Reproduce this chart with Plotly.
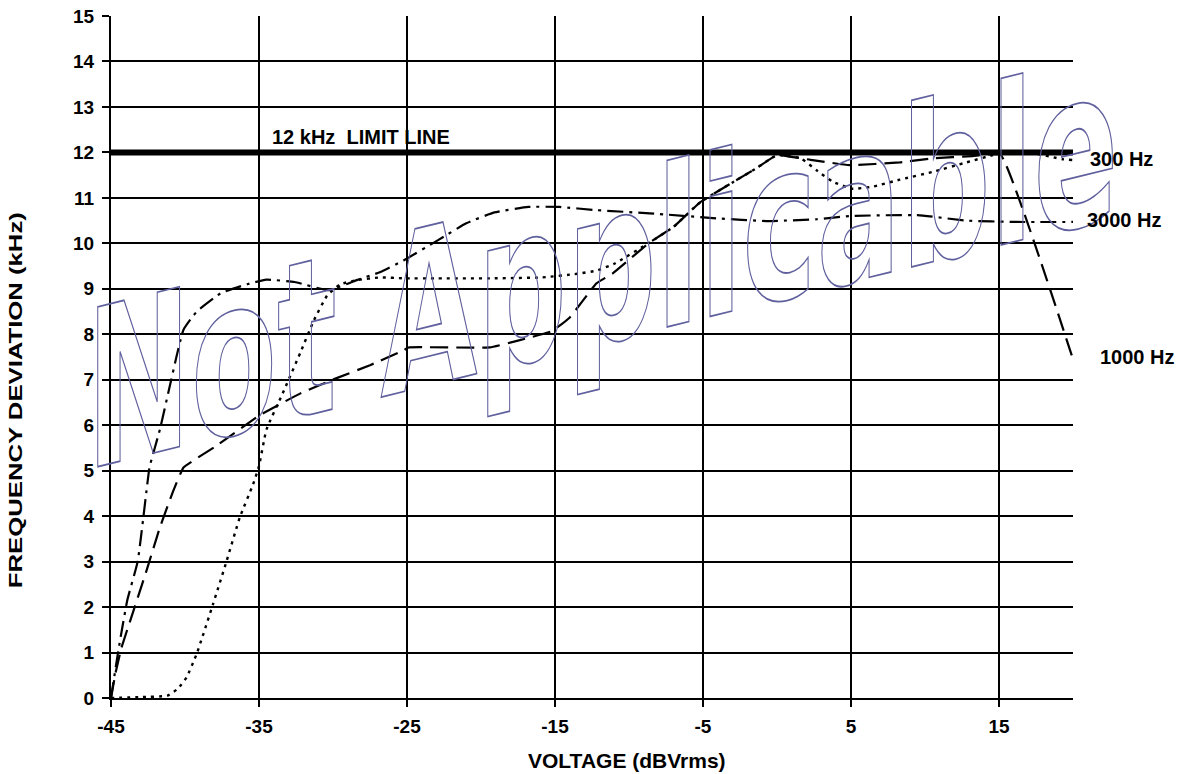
import plotly.graph_objects as go

# ---- data ----
x_300 = [-45, -43, -41.2, -40.5, -39.9, -39.2, -38.1, -37.2, -36.3, -35.4, -35.0, -34.5,
         -33.4, -32.2, -31.3, -30.4, -29.5, -28.4, -26.8, -25.2, -22.9, -19.4, -15.9,
         -13.5, -12.2, -11.0, -8.6, -7.0, -5.2, -3.0, -1.4, 0.0, 1.6, 2.7, 3.8, 5.1,
         6.5, 8.3, 10.5, 12.8, 14.6, 17.0, 19.3, 20.0]
y_300 = [0.0, 0.02, 0.05, 0.2, 0.45, 0.98, 2.07, 3.0, 3.97, 4.7, 5.1, 5.9,
         6.7, 7.6, 8.3, 8.85, 9.1, 9.19, 9.25, 9.23, 9.23, 9.23, 9.25,
         9.33, 9.4, 9.55, 10.02, 10.36, 10.9, 11.34, 11.65, 11.94, 11.87, 11.6, 11.35, 11.2,
         11.25, 11.4, 11.57, 11.78, 11.94, 12.0, 11.85, 11.83]

x_1000 = [-45, -44.7, -44.3, -43.5, -42.6, -41.7, -40.8, -40.1, -38.0, -34.95, -32.2,
          -29.8, -27.5, -25.2, -24.9, -19.4, -17.5, -15.2, -14.0, -12.2, -11.1, -8.6,
          -7.0, -5.2, -3.0, -1.4, 0.0, 2.4, 4.9, 8.3, 10.5, 13.2, 15.1, 20.0]
y_1000 = [0.0, 0.54, 1.1, 1.9, 2.8, 3.75, 4.55, 5.07, 5.52, 6.22, 6.7,
          7.03, 7.32, 7.65, 7.71, 7.71, 7.86, 8.07, 8.37, 9.12, 9.34, 10.02,
          10.36, 10.9, 11.34, 11.65, 11.94, 11.83, 11.72, 11.78, 11.87, 11.92, 11.95, 7.45]

x_3000 = [-45, -44.5, -43.9, -43.2, -42.6, -42.4, -41.7, -41.0, -40.1, -39.2, -37.6,
          -35.8, -34.5, -32.6, -30.3, -28.4, -26.8, -25.2, -22.9, -21.0, -19.1, -16.8,
          -14.7, -12.2, -8.6, -4.1, -0.7, 2.7, 4.9, 9.5, 12.8, 16.2, 20.0]
y_3000 = [0.0, 1.05, 2.15, 3.0, 4.56, 5.07, 5.9, 6.9, 8.1, 8.5, 8.9,
          9.1, 9.2, 9.15, 8.97, 9.19, 9.37, 9.63, 10.07, 10.44, 10.68, 10.8,
          10.8, 10.73, 10.66, 10.55, 10.49, 10.53, 10.6, 10.62, 10.5, 10.47, 10.47]

limit_x = [-45, 20]
limit_y = [12, 12]

x_ticks = [-45, -35, -25, -15, -5, 5, 15]
y_ticks = list(range(0, 16))

series_labels = ["300 Hz", "3000 Hz", "1000 Hz"]
limit_label = "12 kHz  LIMIT LINE"
x_title = "VOLTAGE (dBVrms)"
y_title = "FREQUENCY DEVIATION (kHz)"
watermark = "Not Applicable"

FONT = "Liberation Sans, Arial, sans-serif"

fig = go.Figure()
fig.add_trace(go.Scatter(x=limit_x, y=limit_y, mode="lines",
                         line=dict(color="black", width=6), hoverinfo="skip"))
fig.add_trace(go.Scatter(x=x_3000, y=y_3000, mode="lines", name="3000 Hz",
                         line=dict(color="black", width=2.2, dash="16px,6px,3px,6px",
                                   shape="spline", smoothing=0.4)))
fig.add_trace(go.Scatter(x=x_1000, y=y_1000, mode="lines", name="1000 Hz",
                         line=dict(color="black", width=2.2, dash="18px,8px",
                                   shape="spline", smoothing=0.3)))
fig.add_trace(go.Scatter(x=x_300, y=y_300, mode="lines", name="300 Hz",
                         line=dict(color="black", width=2.4, dash="3px,5px",
                                   shape="spline", smoothing=0.4)))

axis_common = dict(showline=True, linecolor="black", linewidth=2, ticks="outside",
                   ticklen=7, tickwidth=2, tickcolor="black", showgrid=True,
                   gridcolor="black", gridwidth=2, zeroline=False, automargin=False,
                   tickfont=dict(family=FONT, size=19, color="black", weight="bold"))

fig.update_xaxes(range=[-45, 20], tickvals=x_ticks, ticktext=[str(v) for v in x_ticks],
                 ticklabelstandoff=3, **axis_common)
fig.update_yaxes(range=[0, 15], tickvals=y_ticks, ticktext=[str(v) for v in y_ticks],
                 ticklabelstandoff=4, **axis_common)

bold = dict(family=FONT, size=20, color="black", weight="bold")
ann = [
    dict(text=watermark, xref="paper", yref="paper", x=0.5104, y=0.633,
         xanchor="center", yanchor="middle", showarrow=False,
         font=dict(family="DejaVu Sans, Liberation Sans, sans-serif", size=125,
                   color="rgba(0,0,0,0)", weight="bold")),
    dict(text=limit_label, xref="paper", yref="paper", x=0.1653, y=0.8225,
         xanchor="left", yanchor="middle", showarrow=False, font=bold),
    dict(text=series_labels[0], xref="paper", yref="paper", x=1.0156, y=0.790,
         xanchor="left", yanchor="middle", showarrow=False, font=bold),
    dict(text=series_labels[1], xref="paper", yref="paper", x=1.0125, y=0.7007,
         xanchor="left", yanchor="middle", showarrow=False, font=bold),
    dict(text=series_labels[2], xref="paper", yref="paper", x=1.026, y=0.4998,
         xanchor="left", yanchor="middle", showarrow=False, font=bold),
    dict(text=x_title, xref="paper", yref="paper", x=0.5364, y=-0.0914,
         xanchor="center", yanchor="middle", showarrow=False,
         font=dict(family=FONT, size=21, color="black", weight="bold")),
    dict(text=y_title, xref="paper", yref="paper", x=-0.0998, y=0.4367,
         xanchor="center", yanchor="middle", textangle=-90, showarrow=False,
         font=dict(family=FONT, size=19, color="black", weight="bold")),
]

fig.update_layout(width=1182, height=774, margin=dict(l=111, r=109, t=16, b=76),
                  paper_bgcolor="white", plot_bgcolor="white", showlegend=False,
                  annotations=ann)

post = """
(function () {
  document.body.style.margin = '0';
  var gd = document.getElementById('{plot_id}');
  function fix() {
    var texts = gd.querySelectorAll('text.annotation-text');
    texts.forEach(function (t) {
      var s = t.textContent;
      if (s === 'Not Applicable') {
        t.setAttribute('textLength', '1032');
        t.setAttribute('lengthAdjust', 'spacingAndGlyphs');
        t.style.fill = 'none';
        t.style.stroke = '#60609e';
        t.style.strokeWidth = '1.0px';
        t.style.transformBox = 'fill-box';
        t.style.transformOrigin = 'center';
        t.style.transform = 'skewY(-13.8deg) scaleY(1.755)';
      } else if (s === 'FREQUENCY DEVIATION (kHz)') {
        t.setAttribute('textLength', '376');
        t.setAttribute('lengthAdjust', 'spacingAndGlyphs');
      }
    });
  }
  fix();
  if (gd.on) { gd.on('plotly_afterplot', fix); }
})();
"""

fig.write_html("out.html", post_script=post, config={"displayModeBar": False})
